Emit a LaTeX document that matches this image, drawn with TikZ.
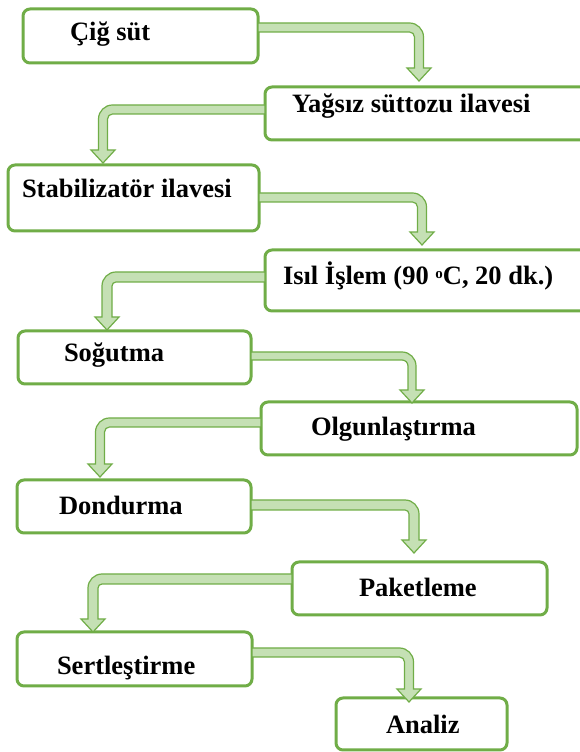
\documentclass[tikz,border=0pt]{standalone}
\usepackage{fontspec}
\setmainfont{Liberation Serif}
\usetikzlibrary{calc}
\definecolor{boxgreen}{HTML}{70AD47}
\definecolor{arrfill}{HTML}{C5E0B4}
\tikzset{
  procbox/.style={draw=boxgreen, line width=3pt, rounded corners=7pt, fill=white,
    inner sep=0pt, outer sep=0pt, anchor=north west},
  lbl/.style={anchor=base west, inner sep=0pt, outer sep=0pt,
    font=\bfseries\fontsize{26.5}{30}\selectfont},
  flowarrow/.style={draw=boxgreen, fill=arrfill, line width=1.2pt, line join=miter}
}
% #1 source node, #2 target node, #3 shaft top Y, #4 shaft bottom Y, #5 centre x, #6 tip offset from target top
\newcommand\bendright[6]{%
  \draw[flowarrow] let \p1=(#1.east), \p2=(#2.north),
    \n1={#5pt}, \n2={(#3-#4)*0.5pt}, \n3={\y2+#6pt}, \n4={\y2+#6pt+13pt}, \n5={14pt-(#3-#4)*1pt} in
    (\x1,#3pt) -- (\n1+\n2-14pt,#3pt) arc[start angle=90,end angle=0,radius=14pt]
    -- (\n1+\n2,\n4) -- (\n1+12pt,\n4) -- (\n1,\n3) -- (\n1-12pt,\n4) -- (\n1-\n2,\n4)
    -- (\n1-\n2,#4pt-\n5) arc[start angle=0,end angle=90,radius=\n5] -- (\x1,#4pt) -- cycle;}
\newcommand\bendleft[6]{%
  \draw[flowarrow] let \p1=(#1.west), \p2=(#2.north),
    \n1={#5pt}, \n2={(#3-#4)*0.5pt}, \n3={\y2+#6pt}, \n4={\y2+#6pt+13pt}, \n5={14pt-(#3-#4)*1pt} in
    (\x1,#3pt) -- (\n1-\n2+14pt,#3pt) arc[start angle=90,end angle=180,radius=14pt]
    -- (\n1-\n2,\n4) -- (\n1-12pt,\n4) -- (\n1,\n3) -- (\n1+12pt,\n4) -- (\n1+\n2,\n4)
    -- (\n1+\n2,#4pt-\n5) arc[start angle=180,end angle=90,radius=\n5] -- (\x1,#4pt) -- cycle;}
\begin{document}
\begin{tikzpicture}[x=1pt,y=1pt]
\useasboundingbox (0,0) rectangle (579,752);
% boxes
\node[procbox, minimum width=235pt, minimum height=54pt] (b1) at (23,743) {};
\node[procbox, minimum width=325pt, minimum height=53pt] (b2) at (265,665) {};
\node[procbox, minimum width=251pt, minimum height=66pt] (b3) at (8,587) {};
\node[procbox, minimum width=325pt, minimum height=61pt] (b4) at (265,502) {};
\node[procbox, minimum width=233pt, minimum height=53pt] (b5) at (18,421) {};
\node[procbox, minimum width=316pt, minimum height=53pt] (b6) at (261,350) {};
\node[procbox, minimum width=234pt, minimum height=53pt] (b7) at (17,272) {};
\node[procbox, minimum width=255pt, minimum height=53pt] (b8) at (292,190) {};
\node[procbox, minimum width=235pt, minimum height=54pt] (b9) at (17,120) {};
\node[procbox, minimum width=171pt, minimum height=52pt] (b10) at (336,54) {};
% arrows
\bendright{b1}{b2}{729}{720}{419}{6}
\bendleft{b2}{b3}{647}{638}{103}{2}
\bendright{b3}{b4}{559}{550}{422}{5}
\bendleft{b4}{b5}{480}{470}{107}{1}
\bendright{b5}{b6}{400}{392}{412}{-1}
\bendleft{b6}{b7}{334}{325}{100}{3}
\bendright{b7}{b8}{252}{242}{414}{9}
\bendleft{b8}{b9}{178}{168}{93}{0}
\bendright{b9}{b10}{104}{95}{409}{-4}
% labels
\node[lbl] (t1) at (70,711) {Çiğ süt};
\node[lbl] (t2) at (292,639) {Yağsız süttozu ilavesi};
\node[lbl] (t3) at (22,554) {Stabilizatör ilavesi};
\node[lbl] (t4) at (283,467) {Isıl İşlem (90 \raisebox{0.55ex}{\fontsize{15}{15}\selectfont o}C, 20 dk.)};
\node[lbl] (t5) at (64,390) {Soğutma};
\node[lbl] (t6) at (311,316) {Olgunlaştırma};
\node[lbl] (t7) at (59,237) {Dondurma};
\node[lbl] (t8) at (359,155) {Paketleme};
\node[lbl] (t9) at (57,77) {Sertleştirme};
\node[lbl] (t10) at (386,19) {Analiz};
\end{tikzpicture}
\end{document}
